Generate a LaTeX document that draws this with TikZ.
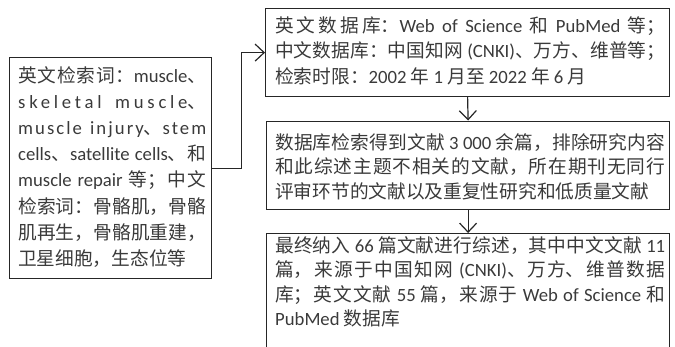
\documentclass[tikz,border=0pt]{standalone}
\usepackage{fontspec}
\setmainfont{Noto Sans CJK SC}
\newfontfamily\latf{Carlito}
\newfontfamily\latsa{Carlito}[LetterSpace=20]
\newfontfamily\latsb{Carlito}[LetterSpace=11]
\newcommand\la[1]{{\latf #1}}
\usetikzlibrary{arrows.meta}
\XeTeXlinebreaklocale "zh"
\XeTeXlinebreakskip=0pt plus 2pt minus 1pt
\definecolor{txt}{HTML}{3A3A3A}
\definecolor{ln}{HTML}{262626}
\hbadness=10000
\tolerance=9999
\begin{document}
\begin{tikzpicture}[x=1bp,y=-1bp,
  box/.style={draw=ln, line width=1.2bp, rectangle, inner sep=0pt, anchor=north west},
  para/.style={anchor=base west, inner sep=0pt, align=justify, text=txt},
  fL/.style={font=\fontsize{18.77}{26.3}\selectfont},
  fA/.style={font=\fontsize{18.77}{25.9}\selectfont},
  fB/.style={font=\fontsize{18.77}{24.6}\selectfont},
  arr/.style={draw=ln, line width=1.2bp, -{Straight Barb[length=9bp,width=17bp]}}]
\useasboundingbox (0,0) rectangle (675,346);
\clip (0,0) rectangle (675,346);
% boxes
\node[box, minimum width=202bp, minimum height=221bp] (L) at (9,57) {};
\node[box, minimum width=404bp, minimum height=88bp] (A) at (265,8) {};
\node[box, minimum width=403bp, minimum height=88.5bp] (B) at (266,120.5) {};
\node[box, minimum width=403bp, minimum height=140bp] (C) at (266,233) {};
% texts
\node[para, fL, text width=188bp] (tL) at (18,82) {英文检索词：\la{muscle}、\linebreak
{\latsa skeletal muscle}、\linebreak
{\latsb muscle injury}、{\latsb stem}\linebreak
\la{cells}、\la{satellite cells}、和\linebreak
\la{muscle repair} 等；中文\linebreak
检索词：骨骼肌，骨骼\linebreak
肌再生，骨骼肌重建，\linebreak
卫星细胞，生态位等};
\node[para, fA, text width=390bp] (tA) at (275,32) {英文数据库：\la{Web of Science} 和 \la{PubMed} 等；\linebreak
中文数据库：中国知网 \la{(CNKI)}、万方、维普等；\linebreak
检索时限：\la{2002} 年 \la{1} 月至 \la{2022} 年 \la{6} 月};
\node[para, fB, text width=390bp] (tB) at (275,149) {数据库检索得到文献 \la{3 000} 余篇，排除研究内容\linebreak
和此综述主题不相关的文献，所在期刊无同行\linebreak
评审环节的文献以及重复性研究和低质量文献};
\node[para, fB, text width=390bp] (tC) at (275,252) {最终纳入 \la{66} 篇文献进行综述，其中中文文献 \la{11}\linebreak
篇，来源于中国知网 \la{(CNKI)}、万方、维普数据\linebreak
库；英文文献 \la{55} 篇，来源于 \la{Web of Science} 和\linebreak
\la{PubMed} 数据库};
% connectors
\draw[arr] (L.east) -- ++(29.5,0) |- (A.west);
\draw[arr] (A.south) -- (B.north);
\draw[arr] (B.south) -- (C.north);
\end{tikzpicture}
\end{document}
